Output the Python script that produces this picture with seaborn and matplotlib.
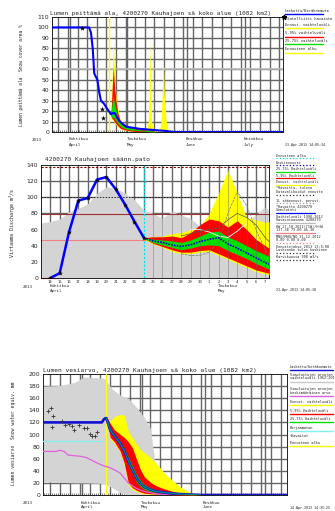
import numpy as np
import pandas as pd
import matplotlib
matplotlib.use("Agg")
from matplotlib import pyplot as plt
from matplotlib.lines import Line2D
import seaborn as sns

sns.set_style("white")
plt.rcParams['font.family'] = ['DejaVu Sans']
MONO = 'DejaVu Sans Mono'

W, H = 335, 511

# ---------------- panel 1: snow cover (day 0 = 1 April) ----------------
p1_calc_days = [-8.3, 11, 12, 12.9, 13.7, 15.3, 16.3, 17.2, 18.8, 20.5, 22.4, 23.2, 24.5, 25.5, 27, 30.5, 37.5, 44, 51, 55, 112]
p1_calc = [100, 100, 95, 80, 56, 50, 38, 30, 27, 22, 17, 18, 18, 14, 10, 5, 3, 2, 1, 0, 0]
p1_sat_days = [7.1, 17.5, 18.4]
p1_sat = [99, 22, 13]
p1_start = 21.5
p1_ens_days = [22.4, 23, 23.6, 24.2, 25, 26, 27, 28, 30, 32, 35, 38, 41, 44, 46]
p1_yel_hi = [17, 50, 88, 60, 35, 22, 14, 10, 7, 5, 4, 3, 2.5, 2, 0]
p1_red_hi = [17, 40, 62, 45, 30, 18, 12, 9, 6, 4.5, 3.5, 3, 2, 1.5, 0]
p1_grn_hi = [17, 28, 35, 28, 22, 14, 10, 7, 5, 4, 3, 2, 1.5, 1, 0]
p1_grn_lo = [16, 14, 14, 13, 11, 8, 6, 4.5, 3, 2, 1.5, 1, 0.5, 0, 0]
p1_red_lo = [15, 13, 12, 10, 8, 6, 4, 3, 2, 1.2, 0.5, 0.3, 0, 0, 0]
p1_yel_lo = [14, 12, 11, 9, 7, 5, 3.5, 2.5, 1.5, 1, 0.3, 0, 0, 0, 0]
p1_spike_days = [41, 41.8, 42.3, 42.7, 43.1, 43.6, 44.4, 47.5, 48.5, 49.1, 49.6, 50.2, 51.2, 52.5]
p1_spike = [0, 10, 40, 88, 40, 10, 0, 0, 10, 35, 77, 35, 10, 0]

# ---------------- panel 2: discharge (day of April, 31 = 1 May) ----------------
p2_obs_days = [14, 15, 16, 17, 18, 19, 20, 21, 22, 23, 24]
p2_obs = [0, 6, 57, 96, 99, 122, 125, 110, 91, 70, 50]
p2_hist_days = [13, 14, 15, 16, 17, 18, 19, 20, 21, 22, 23, 24, 25, 26, 27, 28, 29, 30, 31, 32, 33, 34, 35, 36, 36.9, 37.4]
p2_hist_hi = [68, 70, 73, 82, 86, 92, 105, 113, 111, 105, 97, 84, 80, 74, 83, 78, 74, 64, 62, 62, 65, 68, 70, 78, 88, 84]
p2_f_days = [24, 25, 26, 27, 28, 29, 30, 31, 32, 33, 34, 35, 36, 37, 37.4]
p2_yel_hi = [50, 51, 52, 55, 56, 60, 64, 80, 105, 134, 105, 75, 72, 69, 70]
p2_red_hi = [50, 51, 51, 52, 50, 56, 66, 73, 71, 63, 71, 60, 48, 40, 37]
p2_grn_hi = [50, 48, 47, 46, 44, 47, 52, 57, 58, 51, 46, 40, 34, 29, 27]
p2_med = [50, 46, 44, 41, 39, 41, 45, 48, 50, 42, 37, 31, 25, 19, 17]
p2_grn_lo = [49, 44, 41, 38, 35, 37, 40, 41, 40, 34, 29, 24, 18, 13, 11]
p2_red_lo = [49, 43, 39, 35, 32, 32, 34, 35, 30, 25, 20, 15, 10, 7, 6]
p2_yel_lo = [48, 42, 38, 33, 30, 30, 32, 33, 28, 23, 18, 13, 8, 5, 4]
p2_lineA_days = [28, 29, 30, 31, 32, 33, 34, 35, 36, 37, 37.4]
p2_lineA = [30, 28, 28, 32, 45, 80, 107, 90, 60, 35, 28]
p2_lineB = [52, 55, 58, 60, 62, 72, 80, 75, 66, 50, 45]
p2_lineC_days = [29, 30, 31, 32, 33, 34, 35]
p2_lineC = [60, 60, 57, 52, 50, 58, 68]
p2_levels = [138, 100, 79, 47]
p2_day_labels = list(range(14, 31)) + list(range(1, 8))
p2_start = 24

# ---------------- panel 3: snow water equivalent (day 0 = 1 April) ----------------
p3_hist_days = [-18.5, -10, -3, 2, 12, 16, 20, 24, 28, 32, 35, 37, 39, 42, 45]
p3_hist_hi = [180, 181, 186, 195, 193, 175, 165, 160, 145, 128, 110, 60, 20, 5, 0]
p3_hist_lo = [22, 21, 20, 20, 19, 12, 4, 0, 0, 0, 0, 0, 0, 0, 0]
p3_mean_days = [-18.5, -12, -10, -8, -6, -3, 0, 3, 6, 9, 12, 15, 18, 20, 22, 24, 26, 28, 30, 33, 36, 40, 45, 103]
p3_mean = [72, 72, 74, 72, 66, 65, 64, 62, 57, 52, 48, 45, 40, 36, 28, 20, 15, 11, 8, 5, 3, 1, 0, 0]
p3_corr_days = [-18.5, 10.8]
p3_corr = [89, 89]
p3_obs_days = [-16.2, -14.7, -13.3, -14.2, -9.2, -7.5, -5.8, -4.2, -3.3, -0.8, 1.7, 3.3, 4.7, 5.8, 7.5, 8.3]
p3_obs = [139, 144, 131, 113, 123, 116, 117, 114, 108, 116, 110, 110, 101, 97, 98, 104]
p3_start = 13
p3_e_days = [13, 15, 17, 20, 22, 24, 26, 28, 30, 32, 35, 38, 42, 46, 50, 55, 60]
p3_yel_hi = [131, 122, 130, 133, 132, 105, 95, 85, 75, 70, 62, 52, 36, 24, 13, 4, 0]
p3_red_hi = [131, 118, 108, 100, 95, 88, 78, 60, 42, 30, 21, 15, 10, 6, 3, 1, 0]
p3_grn_hi = [128, 110, 100, 88, 77, 62, 48, 34, 24, 17, 12, 8, 5, 3, 2, 1, 0]
p3_med = [127, 107, 98, 85, 73, 56, 42, 28, 19, 13, 9, 6, 4, 2.5, 1.5, 0.8, 0]
p3_grn_lo = [126, 104, 96, 82, 68, 50, 36, 22, 14, 9, 6, 4, 3, 2, 1, 0.5, 0]
p3_red_lo = [126, 95, 88, 72, 52, 20, 12, 8, 5, 3, 2, 1.5, 1, 0.5, 0, 0, 0]
p3_yel_lo = [125, 93, 85, 70, 48, 16, 9, 6, 3, 2, 1, 0.5, 0.3, 0, 0, 0, 0]
p3_calc_days = [-18.5, 10.8, 11.8, 12.6, 13, 15, 17, 20, 22, 24, 26, 28, 30, 32, 35, 38, 42, 46, 50, 55, 60, 103]
p3_calc = [120, 120, 125, 127, 127, 107, 98, 85, 73, 56, 42, 28, 19, 13, 9, 6, 4, 2.5, 1.5, 0.8, 0, 0]

months = [0, 30, 61, 91]
month_fi = ['Huhtikuu', 'Toukokuu', 'Kesäkuu', 'Heinäkuu']
month_en = ['April', 'May', 'June', 'July']

YEL, RED, GRN, BLUE, GRAY = '#ffff00', '#ff0000', '#00e000', '#0000ff', '#d4d4d4'
GRID = '#666666'

fig = plt.figure(figsize=(W / 100, H / 100), dpi=100)


def axes_at(x0, y0, x1, y1):
    return fig.add_axes([x0 / W, 1 - y1 / H, (x1 - x0) / W, (y1 - y0) / H])


def ftext(x, y, s, size=2.8, **kw):
    fig.text(x / W, 1 - y / H, s, fontsize=size, family=MONO, va='center', **kw)


def fline(x0, x1, y, color, lw=1.0, ls='-'):
    fig.add_artist(Line2D([x0 / W, x1 / W], [1 - y / H] * 2, color=color, lw=lw, ls=ls))


def grid(ax, xs, ys, xlim, ylim, z=0.5, lw=1.0, alpha=1.0):
    if len(xs):
        ax.vlines(xs, ylim[0], ylim[1], color=GRID, lw=lw, zorder=z, alpha=alpha, snap=True)
    if len(ys):
        ax.hlines(ys, xlim[0], xlim[1], color=GRID, lw=lw, zorder=z, alpha=alpha, snap=True)


def style_axes(ax, xlim, ylim, ystep):
    ax.set_xlim(*xlim)
    ax.set_ylim(*ylim)
    ax.set_yticks(np.arange(ylim[0], ylim[1] + 1, ystep))
    ax.tick_params(axis='y', labelsize=4.4, length=0, pad=2)
    ax.set_xlabel('')
    ax.set_ylabel('')
    for s in ax.spines.values():
        s.set_color('black')
        s.set_linewidth(0.6)


# ======================= PANEL 1 =======================
ax1 = axes_at(52, 17, 283, 132)
x1lim, y1lim = (-8.3, 112), (0, 110)
grid(ax1, [float(d) for d in np.arange(-5, 112, 5)] + [m + 1.0 for m in months], list(range(10, 110, 10)), x1lim, y1lim)
ax1.axhline(60, color='#bbbbbb', lw=1.2, zorder=0.6)
ax1.fill_between(p1_ens_days, p1_yel_lo, p1_yel_hi, color=YEL, lw=0, zorder=1)
ax1.fill_between(p1_spike_days, 0, p1_spike, color=YEL, lw=0, zorder=1)
ax1.fill_between(p1_ens_days, p1_red_lo, p1_red_hi, color=RED, lw=0, zorder=2)
ax1.fill_between(p1_ens_days, p1_grn_lo, p1_grn_hi, color=GRN, lw=0, zorder=3)
ax1.axvline(p1_start, color=YEL, lw=1.0, zorder=3)
sns.lineplot(x=p1_calc_days, y=p1_calc, ax=ax1, color=BLUE, lw=1.5, zorder=5)
sns.scatterplot(x=p1_sat_days, y=p1_sat, ax=ax1, color='black', marker='*', s=16, zorder=6, linewidth=0)
style_axes(ax1, x1lim, y1lim, 10)
ax1.set_xticks(months)
ax1.set_xticklabels([])
ax1.set_xticks(np.arange(-8, 112, 1), minor=True)
ax1.tick_params(axis='x', which='major', direction='out', length=7, width=0.6, color='#444444')
ax1.tick_params(axis='x', which='minor', direction='in', length=1.5, width=0.4, bottom=True)

ftext(50, 14, 'Lumen peittämä ala, 4200270 Kauhajoen sä koko alue (1082 km2)', 4.3)
fig.text(21.5 / W, 1 - 75 / H, 'Lumen peittämä ala  Snow cover area %', fontsize=3.3,
         family=MONO, rotation=90, ha='center', va='center')
ftext(32, 140, '2013', 3.0)
for i in range(4):
    px = 68 + 1.92 * months[i]
    ftext(px + 1, 139.5, month_fi[i], 3.0)
    ftext(px + 1, 145, month_en[i], 3.0)
ftext(285, 145, '23-Apr-2013 14:05:34', 2.4)

leg1 = [('Laskettu/Beräknemute', BLUE, '-', 11), ('*Satelliitti havainto', None, '', 19),
        ('Ennust. vaihteluväli', YEL, '-', 25), ('5-95% vaihteluväli', RED, '-', 33.3),
        ('25-75% vaihteluväli', GRN, '-', 41), ('Ennusteen alku', YEL, '-', 49.3)]
for lab, col, ls, yy in leg1:
    ftext(285, yy, lab, 2.7)
    if col is not None:
        fline(285, 323, yy + 3.3, col, lw=1.0)
fig.add_artist(Line2D([284 / W], [1 - 17.5 / H], marker='*', color='black', markersize=3.5, lw=0))

# ======================= PANEL 2 =======================
ax2 = axes_at(41, 165, 269, 278)
x2lim, y2lim = (13.0, 37.4), (0, 140)
grid(ax2, [float(d) for d in range(14, 38)], list(range(20, 140, 20)), x2lim, y2lim)
ax2.fill_between(p2_hist_days, 0, p2_hist_hi, color=GRAY, lw=0, zorder=1)
ax2.axhline(p2_levels[0], color='#800000', lw=0.8, ls=(0, (2, 1.5)), zorder=2)
ax2.axhline(p2_levels[1], color='#222222', lw=0.7, ls=(0, (1.5, 1.5)), zorder=2)
ax2.axhline(p2_levels[2], color='#a03030', lw=0.8, zorder=2)
ax2.axhline(p2_levels[3], color='#f08080', lw=0.8, zorder=2)
ax2.fill_between(p2_f_days, p2_yel_lo, p2_yel_hi, color=YEL, lw=0, zorder=3)
ax2.fill_between(p2_f_days, p2_red_lo, p2_red_hi, color=RED, lw=0, zorder=4)
ax2.fill_between(p2_f_days, p2_grn_lo, p2_grn_hi, color=GRN, lw=0, zorder=5)
# day grid stays visible over the forecast bands
grid(ax2, [float(d) for d in range(25, 38)], [], x2lim, y2lim, z=5.5, lw=0.6, alpha=0.5)
sns.lineplot(x=p2_lineC_days, y=p2_lineC, ax=ax2, color='#e8e8e8', lw=0.7, zorder=6)
sns.lineplot(x=p2_lineA_days, y=p2_lineB, ax=ax2, color='#555555', lw=0.5, zorder=6)
sns.lineplot(x=p2_lineA_days, y=p2_lineA, ax=ax2, color='#777777', lw=0.5, ls='--', zorder=6)
sns.lineplot(x=p2_f_days, y=p2_med, ax=ax2, color='#0000cc', lw=1.2, ls=(0, (1, 0.7)), zorder=7)
ax2.axvline(p2_start, color='#00e5ee', lw=0.8, ls=(0, (2, 1.5)), zorder=7)
sns.lineplot(x=p2_obs_days, y=p2_obs, ax=ax2, color=BLUE, lw=1.8, zorder=8)
sns.scatterplot(x=p2_obs_days, y=p2_obs, ax=ax2, color='black', marker='*', s=14, zorder=9, linewidth=0)
style_axes(ax2, x2lim, y2lim, 20)
ax2.set_xticks([31])
ax2.set_xticklabels([])
ax2.tick_params(axis='x', which='major', direction='out', length=9, width=0.6, color='#444444')
for d, lab in zip(range(14, 38), p2_day_labels):
    ax2.text(d, -3.0, str(lab), fontsize=2.8, family=MONO, ha='center', va='top')
ax2.plot([13.0, 14.5], [0, 0], color='#f08080', lw=1.0, zorder=2, clip_on=False)

ftext(45, 160, '4200270 Kauhajoen säänn.pato', 4.4)
fig.text(12.5 / W, 1 - 223 / H, 'Virtaama Discharge m$^3$/s', fontsize=3.6,
         family=MONO, rotation=90, ha='center', va='center')
ftext(23, 286.5, '2013', 3.0)
ftext(50, 286, 'Huhtikuu', 3.0)
ftext(50, 290.5, 'April', 3.0)
ftext(218, 286, 'Toukokuu', 3.0)
ftext(218, 290.5, 'May', 3.0)
ftext(276, 289.5, '23-Apr-2013 14:05:38', 2.4)

leg2 = [(['Ennusteen alku'], '#00e5ee', ':', 155.7),
        (['Keskiennuste'], '#0000cc', ':', 162.7),
        (['25-75% Vaihteluväli'], GRN, '-', 169),
        (['5-95% Vaihteluväli'], RED, '-', 175.7),
        (['Ennust. vaihteluväli'], YEL, '-', 182.3),
        (['*Havaittu, tuleva', 'Datavalikoidut ennuste'], '#333333', ':', 188.3),
        (['1L sääennust. perust.'], '#999999', ':', 200.7),
        (['*Havaittu 4200270', 'Simulointi'], BLUE, '-', 206.7),
        (['Vaihteluväli 1998-2012', 'Havaintoasema 4200270'], '#bbbbbb', '-', 216.5),
        (['HW 27.10.2012(Y1W)/HHW', '137.38 79.00 46.38'], '#f08080', '-', 226.5),
        (['MNQ/MHQ/NQ 31.12.2012', '0.00 0.00 0.00'], '#f08080', ':', 236.5),
        (['Ennustejakso 2013 13:5:08', 'Laskennan tulos kaskinen'], '#333333', ':', 246.5),
        (['Karvikuussa 300 m3/s'], '#333333', ':', 257.5)]
for labs, col, ls, yy in leg2:
    for k, lab in enumerate(labs):
        ftext(276, yy + 3.6 * k, lab, 2.5)
    fline(276, 315, yy + 3.6 * (len(labs) - 1) + 2.6, col, lw=0.9, ls=ls)

# ======================= PANEL 3 =======================
ax3 = axes_at(43, 374, 287, 495)
x3lim, y3lim = (-18.5, 103), (0, 200)
grid(ax3, [float(d) for d in np.arange(-15, 103, 5)] + [m + 1.0 for m in months], list(range(20, 200, 20)), x3lim, y3lim)
ax3.fill_between(p3_hist_days, p3_hist_lo, p3_hist_hi, color=GRAY, lw=0, zorder=1)
ax3.fill_between(p3_e_days, p3_yel_lo, p3_yel_hi, color=YEL, lw=0, zorder=2)
ax3.fill_between(p3_e_days, p3_red_lo, p3_red_hi, color=RED, lw=0, zorder=3)
ax3.fill_between(p3_e_days, p3_grn_lo, p3_grn_hi, color=GRN, lw=0, zorder=4)
ax3.axvline(p3_start, color=YEL, lw=1.0, zorder=4)
sns.lineplot(x=p3_mean_days, y=p3_mean, ax=ax3, color='#e060e0', lw=0.9, zorder=5)
sns.lineplot(x=p3_corr_days, y=p3_corr, ax=ax3, color='#80f0f0', lw=0.9, zorder=5)
sns.lineplot(x=p3_calc_days, y=p3_calc, ax=ax3, color='#1010d0', lw=1.9, zorder=6)
sns.lineplot(x=p3_e_days, y=p3_med, ax=ax3, color='#008b8b', lw=0.9, zorder=7)
sns.scatterplot(x=p3_obs_days, y=p3_obs, ax=ax3, color='#333333', marker='+', s=6, zorder=8, linewidth=0.6)
style_axes(ax3, x3lim, y3lim, 20)
ax3.set_xticks(months)
ax3.set_xticklabels([])
ax3.set_xticks(np.arange(-18, 103, 1), minor=True)
ax3.tick_params(axis='x', which='major', direction='out', length=9, width=0.6, color='#444444')
ax3.tick_params(axis='x', which='minor', direction='in', length=1.5, width=0.4, bottom=True)

ftext(43, 370.5, 'Lumen vesiarvo, 4200270 Kauhajoen sä koko alue (1082 km2)', 4.5)
fig.text(14 / W, 1 - 433 / H, 'Lumen vesiarvo  Snow water equiv. mm', fontsize=3.4,
         family=MONO, rotation=90, ha='center', va='center')
ftext(23, 503, '2013', 3.0)
for i in range(3):
    px = 80 + 2.0 * months[i]
    ftext(px + 1, 502.5, month_fi[i], 3.0)
    ftext(px + 1, 507, month_en[i], 3.0)
ftext(290, 507.5, '14-Apr-2013 14:35:25', 2.4)

leg3 = [(['Laskettu/beräknemute'], '#1010d0', 366.7),
        (['Simuloitujen arvojen', 'vaihteluväli 1962-2012'], '#c8c8c8', 375),
        (['Simuloitujen arvojen', 'keskimääräinen arvo'], '#e060e0', 389.3),
        (['Ennust. vaihteluväli'], YEL, 401.7),
        (['5-95% Vaihteluväli'], RED, 410.7),
        (['25-75% Vaihteluväli'], GRN, 419),
        (['Korjaamaton'], '#80f0f0', 427.7),
        (['+Havaitut'], None, 436),
        (['Ennusteen alku'], YEL, 442.7)]
for labs, col, yy in leg3:
    for k, lab in enumerate(labs):
        ftext(289.5, yy + 3.4 * k, lab, 2.6)
    if col is not None:
        fline(289.5, 333, yy + 3.4 * (len(labs) - 1) + 3.2, col, lw=1.0)

fig.savefig('out.png', dpi=100)
